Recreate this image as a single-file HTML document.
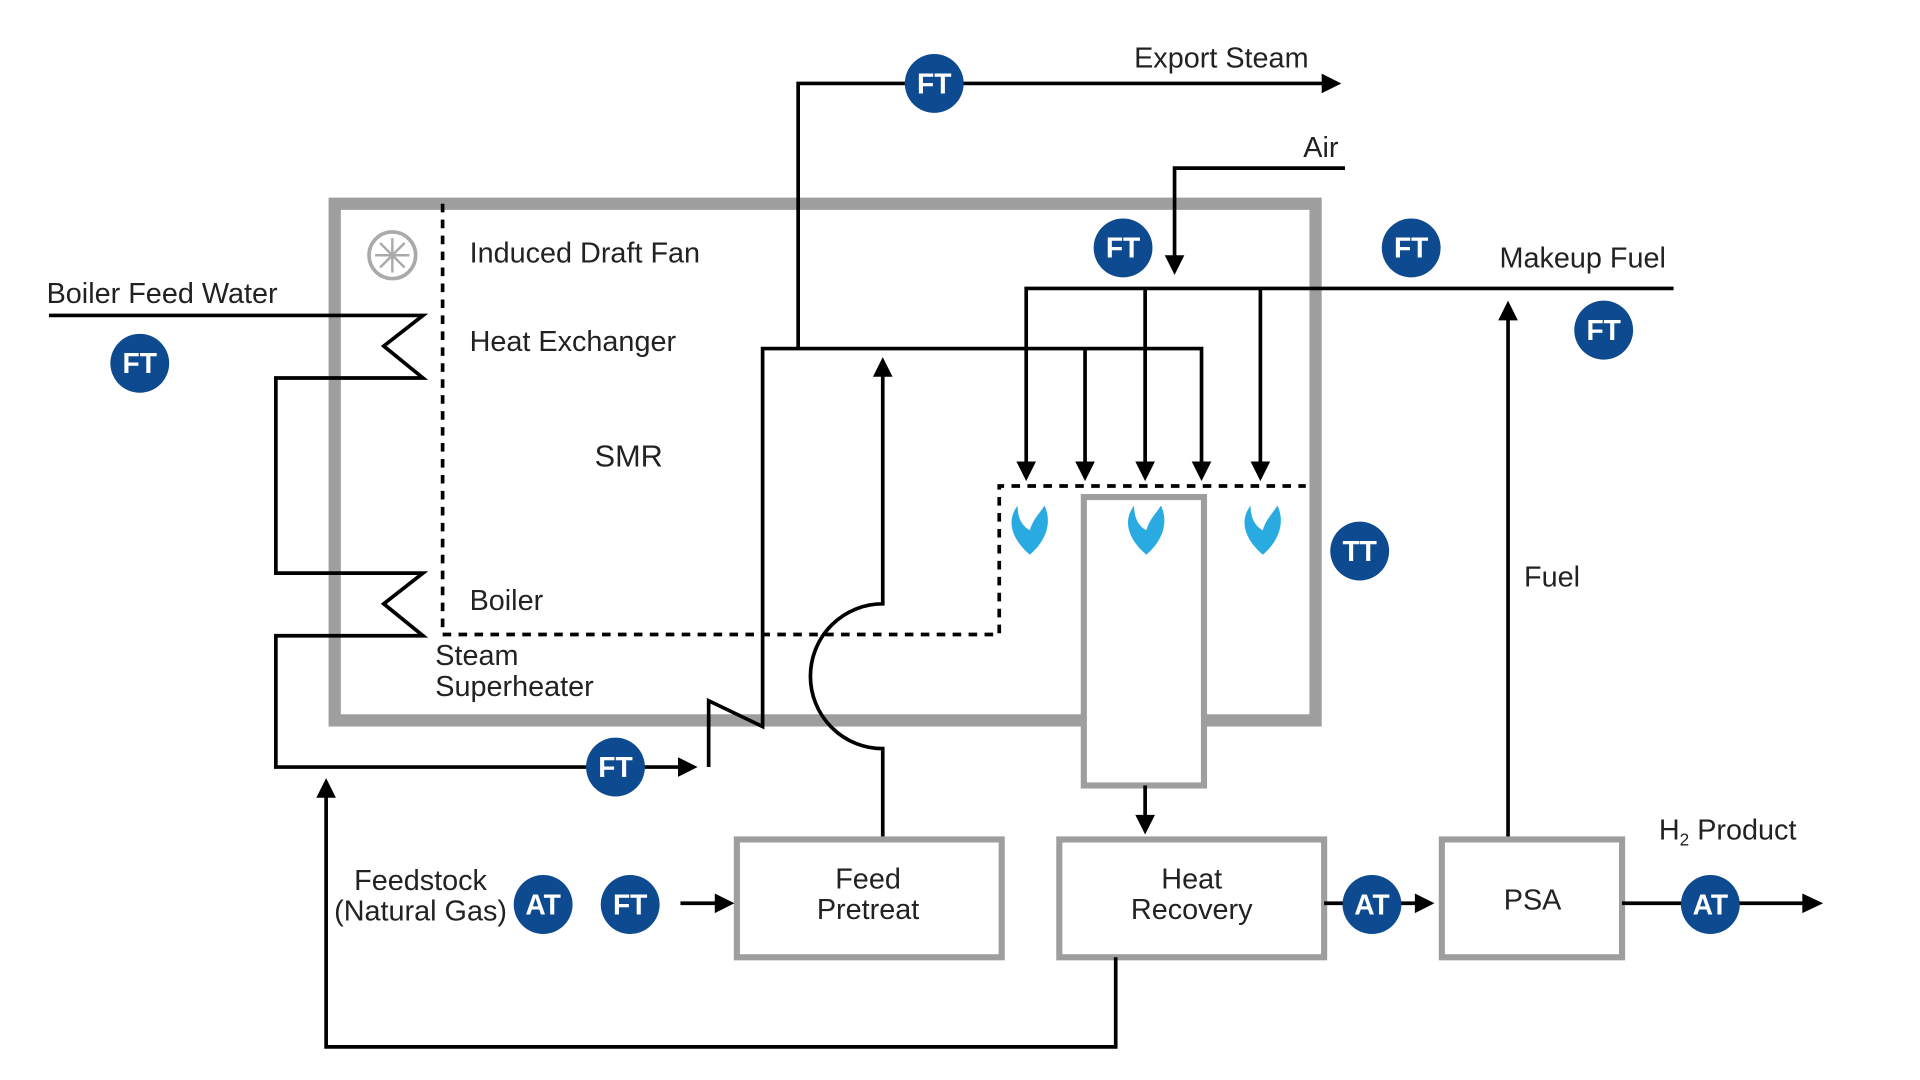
<!DOCTYPE html>
<html><head><meta charset="utf-8"><style>html,body{margin:0;padding:0;background:#fff;}svg{display:block}</style></head>
<body>
<svg width="1920" height="1080" viewBox="0 0 1566 880" preserveAspectRatio="none" xmlns="http://www.w3.org/2000/svg" font-family="Liberation Sans, sans-serif">
<g fill="none" stroke="#000" stroke-width="3">
<rect x="273" y="166" width="800" height="421" stroke="#9e9e9e" stroke-width="10"/>
<path d="M361,166 V517 H815 V396 H1065" stroke-dasharray="7,6"/>
<path d="M651,284 V68 H1080"/>
<path d="M1078,60 L1094,68 L1078,76z" fill="#000" stroke="none"/>
<path d="M1097,137 H958 V210"/>
<path d="M950,208 L958,224 L966,208z" fill="#000" stroke="none"/>
<path d="M40,257 H345 L313,282 L345,308 H225 V467 H345 L313,492 L345,518 H225 V625 H555"/>
<path d="M553,617 L569,625 L553,633z" fill="#000" stroke="none"/>
<path d="M578,625 V571 L622,592 V284 H980 V378"/>
<path d="M885,284 V378"/>
<path d="M1365,235 H837 V378 M934,235 V378 M1028,235 V378"/>
<g fill="#000" stroke="none">
<path d="M829,376 L837,392 L845,376z"/><path d="M877,376 L885,392 L893,376z"/><path d="M926,376 L934,392 L942,376z"/><path d="M972,376 L980,392 L988,376z"/><path d="M1020,376 L1028,392 L1036,376z"/>
</g>
<rect x="884" y="405" width="98" height="235" stroke="#9e9e9e" stroke-width="5" fill="#fff"/>
<path d="M934,640 V666"/>
<path d="M926,664 L934,680 L942,664z" fill="#000" stroke="none"/>
<path d="M720,684 V610 A59,59 0 0 1 720,492 V305"/>
<path d="M712,307 L720,291 L728,307z" fill="#000" stroke="none"/>
<path d="M1230,684 V258"/>
<path d="M1222,261 L1230,245 L1238,261z" fill="#000" stroke="none"/>
<rect x="601" y="684" width="216" height="96" stroke="#9e9e9e" stroke-width="5" fill="#fff"/>
<rect x="864" y="684" width="216" height="96" stroke="#9e9e9e" stroke-width="5" fill="#fff"/>
<rect x="1176" y="684" width="147" height="96" stroke="#9e9e9e" stroke-width="5" fill="#fff"/>
<path d="M555,736 H585"/><path d="M583,728 L599,736 L583,744z" fill="#000" stroke="none"/>
<path d="M1080,736 H1156"/><path d="M1154,728 L1170,736 L1154,744z" fill="#000" stroke="none"/>
<path d="M1323,736 H1472"/><path d="M1470,728 L1487,736 L1470,744z" fill="#000" stroke="none"/>
<path d="M910,780 V853 H266 V648"/>
<path d="M258,650 L266,634 L274,650z" fill="#000" stroke="none"/>
</g>
<g transform="translate(320,208)" stroke="#aaa" fill="none" stroke-width="3">
<circle r="19"/>
<g stroke-width="2"><path d="M0,0 L0,-14 M0,0 L10,-10 M0,0 L14,0 M0,0 L10,10 M0,0 L0,14 M0,0 L-10,10 M0,0 L-14,0 M0,0 L-10,-10"/></g>
</g>
<g fill="#29abe2">
<path d="M840,452 C826,440 820,425 830,412 C830,425 836,430 840,432 C842,424 848,418 852,412 C858,425 854,440 840,452z"/>
<path d="M935,452 C921,440 915,425 925,412 C925,425 931,430 935,432 C937,424 943,418 947,412 C953,425 949,440 935,452z"/>
<path d="M1030,452 C1016,440 1010,425 1020,412 C1020,425 1026,430 1030,432 C1032,424 1038,418 1042,412 C1048,425 1044,440 1030,452z"/>
</g>
<g fill="#0d4a8f">
<circle cx="762" cy="68" r="24"/><circle cx="916" cy="202" r="24"/><circle cx="1151" cy="202" r="24"/><circle cx="1308" cy="269" r="24"/><circle cx="114" cy="296" r="24"/><circle cx="1109" cy="449" r="24"/><circle cx="502" cy="625" r="24"/><circle cx="443" cy="737" r="24"/><circle cx="514" cy="737" r="24"/><circle cx="1119" cy="737" r="24"/><circle cx="1395" cy="737" r="24"/>
</g>
<g fill="#fff" font-size="23" font-weight="bold" text-anchor="middle">
<text x="762" y="76">FT</text><text x="916" y="210">FT</text><text x="1151" y="210">FT</text><text x="1308" y="277">FT</text><text x="114" y="304">FT</text><text x="1109" y="457">TT</text><text x="502" y="633">FT</text><text x="443" y="745">AT</text><text x="514" y="745">FT</text><text x="1119" y="745">AT</text><text x="1395" y="745">AT</text>
</g>
<g fill="#222" font-size="23.5">
<text x="925" y="55">Export Steam</text>
<text x="1063" y="128">Air</text>
<text x="1223" y="218">Makeup Fuel</text>
<text x="38" y="247">Boiler Feed Water</text>
<text x="383" y="214">Induced Draft Fan</text>
<text x="383" y="286">Heat Exchanger</text>
<text x="485" y="380" font-size="25">SMR</text>
<text x="383" y="497">Boiler</text>
<text x="355" y="542">Steam</text>
<text x="355" y="567">Superheater</text>
<text x="1243" y="478">Fuel</text>
<text x="1353" y="684">H<tspan font-size="14" dy="5">2</tspan><tspan dy="-5"> Product</tspan></text>
<g text-anchor="middle">
<text x="343" y="725">Feedstock</text><text x="343" y="750">(Natural Gas)</text>
<text x="708" y="724">Feed</text><text x="708" y="749">Pretreat</text>
<text x="972" y="724">Heat</text><text x="972" y="749">Recovery</text>
<text x="1250" y="741">PSA</text>
</g>
</g>
</svg>
</body></html>
